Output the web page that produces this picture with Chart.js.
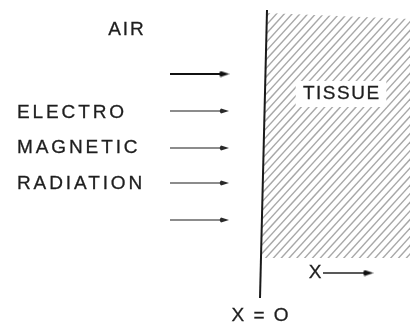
<!DOCTYPE html>
<html>
<head>
<meta charset="utf-8">
<script src="https://cdn.jsdelivr.net/npm/chart.js@4/dist/chart.umd.min.js"></script>
<style>
  html, body { margin: 0; padding: 0; background: #fff; }
  #wrap { width: 413px; height: 327px; position: relative; }
</style>
</head>
<body>
<div id="wrap"><canvas id="c"></canvas></div>
<script>
// ---- Diagram data (units: x = 0 at the air/tissue interface) ----
const airLabel = ["AIR"];
const airLabelPos = [-13.4, 29.7];
const sourceLabel = ["ELECTRO", "MAGNETIC", "RADIATION"];
const sourceLabelX = [-24.3];
const sourceLabelY = [21.4, 17.9, 14.3];
const arrowY = [25.3, 21.6, 17.9, 14.4, 10.7];
const arrowX = [-9.0, -3.6];
const interfaceX = [0.7, 0.0];
const interfaceY = [31.7, 2.9];
const tissueLabel = ["TISSUE"];
const tissueLabelPos = [8.1, 23.3];
const tissueTop = [31.4, 30.8];
const tissueRight = [15.0];
const tissueBottom = [6.9];
const depthLabel = ["X"];
const depthLabelPos = [5.5, 5.4];
const depthArrowX = [6.3, 10.8];
const originLabel = ["X = O"];
const originLabelPos = [0.0, 1.1];
const xRange = [-26, 15.3];
const yRange = [0, 32.7];

// arrowhead image
function makeHead(color, w, h) {
  const c = document.createElement('canvas');
  c.width = w; c.height = h;
  const g = c.getContext('2d');
  g.fillStyle = color;
  g.beginPath();
  g.moveTo(w, h / 2);
  g.lineTo(2, 0.4);
  g.quadraticCurveTo(-0.5, h / 2, 2, h - 0.4);
  g.closePath();
  g.fill();
  return c;
}
const headDark = makeHead('#111', 11, 7);
const headGray = makeHead('#2a2a2a', 10, 6);

function arrowDataset(y, x0, x1, color, width, head) {
  return {
    type: 'line',
    data: [{x: x0, y: y}, {x: x1, y: y}],
    borderColor: color,
    borderWidth: width,
    pointRadius: (ctx) => ctx.dataIndex === 1 ? 4 : 0,
    pointStyle: (ctx) => ctx.dataIndex === 1 ? head : 'circle',
    showLine: true,
    fill: false
  };
}

const datasets = [];
datasets.push({
  type: 'line',
  data: [{x: interfaceX[0], y: interfaceY[0]}, {x: interfaceX[1], y: interfaceY[1]}],
  borderColor: '#1a1a1a',
  borderWidth: 2,
  pointRadius: 0,
  showLine: true
});
arrowY.forEach((y, i) => {
  datasets.push(arrowDataset(y, arrowX[0], arrowX[1],
    i === 0 ? '#111' : '#666', i === 0 ? 2 : 1.4, i === 0 ? headDark : headGray));
});
datasets.push(arrowDataset(depthLabelPos[1], depthArrowX[0], depthArrowX[1], '#222', 1.6, headDark));

function ix(y) { // interface x at a given y
  const t = (y - interfaceY[0]) / (interfaceY[1] - interfaceY[0]);
  return interfaceX[0] + t * (interfaceX[1] - interfaceX[0]);
}

const FONT = '19px "Liberation Sans", Arial, sans-serif';

const hatchPlugin = {
  id: 'hatch',
  beforeDatasetsDraw(chart) {
    const {ctx, scales: {x, y}} = chart;
    ctx.save();
    ctx.beginPath();
    ctx.moveTo(x.getPixelForValue(ix(tissueTop[0])), y.getPixelForValue(tissueTop[0]));
    ctx.lineTo(x.getPixelForValue(tissueRight[0]), y.getPixelForValue(tissueTop[1]));
    ctx.lineTo(x.getPixelForValue(tissueRight[0]), y.getPixelForValue(tissueBottom[0]));
    ctx.lineTo(x.getPixelForValue(ix(tissueBottom[0])), y.getPixelForValue(tissueBottom[0]));
    ctx.closePath();
    ctx.clip();
    ctx.strokeStyle = '#a8a8a8';
    ctx.lineWidth = 1.4;
    const H = chart.height, W = chart.width;
    const slope = 1.1, step = 8.6;
    for (let b = -W; b < H + W * slope; b += step) {
      ctx.beginPath();
      ctx.moveTo(0, b);
      ctx.lineTo(W, b - W * slope);
      ctx.stroke();
    }
    ctx.restore();
    // white box behind TISSUE label
    ctx.save();
    ctx.font = FONT;
    ctx.letterSpacing = '2px';
    const tw = ctx.measureText(tissueLabel[0]).width;
    const cx = x.getPixelForValue(tissueLabelPos[0]);
    const cy = y.getPixelForValue(tissueLabelPos[1]);
    ctx.fillStyle = '#fff';
    ctx.fillRect(cx - tw / 2 - 5, cy - 13, tw + 10, 26);
    ctx.restore();
  }
};

const textPlugin = {
  id: 'texts',
  afterDatasetsDraw(chart) {
    const {ctx, scales: {x, y}} = chart;
    ctx.save();
    ctx.fillStyle = '#1e1e1e';
    ctx.strokeStyle = '#1e1e1e';
    ctx.lineWidth = 0.3;
    ctx.textBaseline = 'middle';
    ctx.font = FONT;
    function put(t, px, py, align, sp) {
      ctx.letterSpacing = sp + 'px';
      ctx.textAlign = align;
      const off = align === 'center' ? sp / 2 : 0;
      const X = x.getPixelForValue(px) + off, Y = y.getPixelForValue(py);
      ctx.fillText(t, X, Y);
      ctx.strokeText(t, X, Y);
    }
    put(airLabel[0], airLabelPos[0], airLabelPos[1], 'center', 2);
    sourceLabel.forEach((t, i) => put(t, sourceLabelX[0], sourceLabelY[i], 'left', 2.9));
    put(tissueLabel[0], tissueLabelPos[0], tissueLabelPos[1], 'center', 1.5);
    put(depthLabel[0], depthLabelPos[0], depthLabelPos[1], 'center', 0);
    put(originLabel[0], originLabelPos[0], originLabelPos[1], 'center', 2);
    ctx.restore();
  }
};

new Chart(document.getElementById('c'), {
  type: 'scatter',
  data: { datasets },
  options: {
    responsive: true,
    maintainAspectRatio: false,
    animation: false,
    events: [],
    layout: { padding: 0, autoPadding: false },
    plugins: { legend: { display: false }, tooltip: { enabled: false } },
    scales: {
      x: { type: 'linear', min: xRange[0], max: xRange[1], display: false },
      y: { type: 'linear', min: yRange[0], max: yRange[1], display: false }
    }
  },
  plugins: [hatchPlugin, textPlugin]
});
</script>
</body>
</html>
